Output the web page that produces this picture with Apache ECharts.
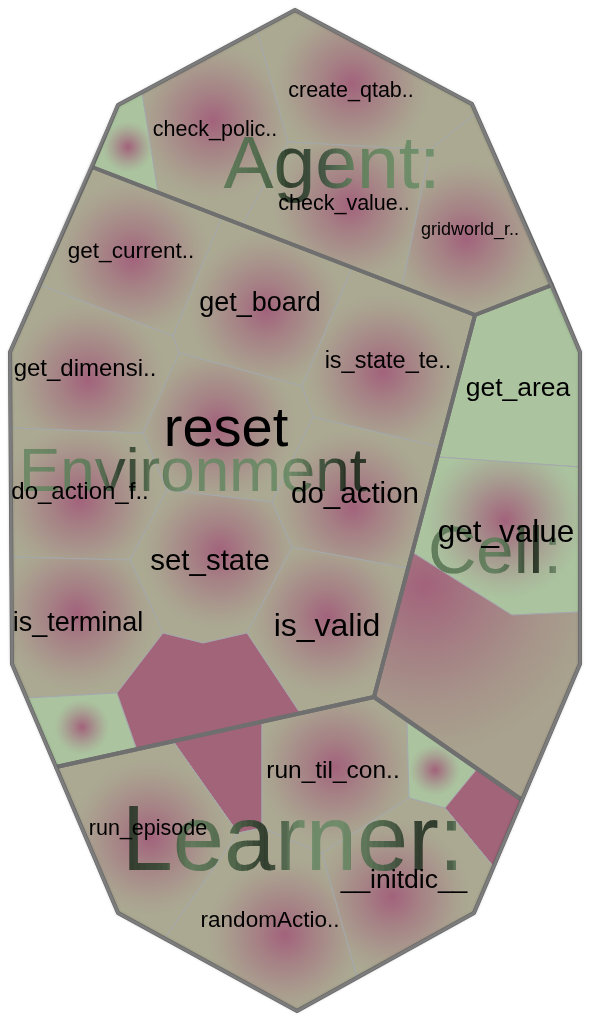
<!DOCTYPE html>
<html><head><meta charset="utf-8">
<script src="https://cdn.jsdelivr.net/npm/echarts@6/dist/echarts.min.js"></script>
<style>html,body{margin:0;padding:0;background:#fff}#c{width:592px;height:1020px}</style>
</head><body><div id="c"></div>
<script>
// ---------------- DATA ----------------
const groupNames = ['Agent:', 'Environment', 'Cell:', 'Learner:'];
const groupPolygons = [
  [[118,105],[295,10],[472,104],[552,285],[475,315],[92,167]],
  [[92,167],[475,315],[374,697],[56,767],[12,664],[10,352]],
  [[475,315],[552,285],[580,352],[580,664],[522,800],[374,697]],
  [[56,767],[374,697],[522,800],[474,913],[297,1011],[118,913]]
];
const outerPolygon = [[295,10],[472,104],[580,352],[580,664],[474,913],[297,1011],[118,913],[12,664],[10,352],[118,105]];
const cellLabels = [
  '', 'check_polic..', 'create_qtab..', 'check_value..', 'gridworld_r..',
  'get_current..', 'get_board', 'get_dimensi..', 'is_state_te..', 'reset', 'do_action_f..',
  'do_action', 'set_state', 'is_terminal', 'is_valid', '', '',
  'get_area', 'get_value', '',
  '', 'run_episode', 'randomActio..', 'run_til_con..', '', '', '__initdic__'
];
const cellGroups = [0,0,0,0,0, 1,1,1,1,1,1,1,1,1,1,1,1, 2,2,2, 3,3,3,3,3,3,3];
const cellPolygons = [
  [[118,105],[142,92],[158,192],[92,167]],
  [[142,92],[257,30],[288,142],[242,225],[158,192]],
  [[257,30],[295,10],[472,104],[476,113],[430,150],[288,142]],
  [[288,142],[430,150],[402,287],[242,225]],
  [[430,150],[476,113],[552,285],[475,315],[402,287]],
  [[92,167],[222,217],[173,336],[40,285]],
  [[222,217],[352,268],[302,386],[179,353],[173,336]],
  [[40,285],[173,336],[179,353],[143,433],[11,428],[10,352]],
  [[352,268],[475,315],[440,447],[313,417],[302,386]],
  [[179,353],[302,386],[313,417],[272,502],[167,490],[143,433]],
  [[11,428],[143,433],[167,490],[130,560],[11,557]],
  [[313,417],[440,447],[407,568],[292,547],[272,502]],
  [[167,490],[272,502],[292,547],[247,633],[203,643],[163,633],[130,560]],
  [[11,557],[130,560],[163,633],[117,693],[26,698],[12,664]],
  [[292,547],[407,568],[374,697],[300,713],[247,633]],
  [[26,698],[117,693],[137,750],[56,767]],
  [[163,633],[203,643],[247,633],[300,713],[137,750],[117,693]],
  [[475,315],[552,285],[580,352],[580,467],[438,457]],
  [[438,457],[580,467],[580,612],[512,615],[412,552]],
  [[412,552],[512,615],[580,612],[580,664],[522,800],[374,697]],
  [[173,741],[262,722],[262,828],[238,833]],
  [[56,767],[173,741],[238,833],[165,938],[118,913]],
  [[238,833],[262,828],[322,853],[357,977],[297,1011],[165,938]],
  [[262,722],[374,697],[407,720],[409,798],[322,853],[262,828]],
  [[407,720],[477,769],[445,808],[409,798]],
  [[477,769],[522,800],[493,866],[445,808]],
  [[409,798],[445,808],[493,866],[474,913],[357,977],[322,853]]
];

// ---------------- STYLES ----------------
const FONT = '"Liberation Sans", Arial, sans-serif';
const MAG = '#a2627b';
const SOLID = '#a26478';
const BASE = { olive: '#aba992', green: '#abc49f', brown: '#a8a28e' };
// per cell: kind, gradient centre, radius, label centre, font size
const cellStyles = [
  {kind:'green', g:[128,147], r:26},
  {kind:'olive', g:[213,121], r:78, l:[215,129], s:21.5},
  {kind:'olive', g:[352,84], r:78, l:[351,90], s:21.5},
  {kind:'olive', g:[350,205], r:78, l:[344,203], s:21.5},
  {kind:'olive', g:[466,238], r:78, l:[470,229], s:18},
  {kind:'olive', g:[133,258], r:78, l:[131,250], s:22.5},
  {kind:'olive', g:[266,310], r:78, l:[260,302], s:27},
  {kind:'olive', g:[88,380], r:78, l:[85,368], s:24},
  {kind:'olive', g:[383,372], r:78, l:[388,360], s:23.5},
  {kind:'olive', g:[218,425], r:78, l:[226,427], s:56},
  {kind:'olive', g:[80,500], r:78, l:[80,491], s:24},
  {kind:'olive', g:[353,507], r:78, l:[355,493], s:29.5},
  {kind:'olive', g:[220,552], r:78, l:[210,560], s:29.5},
  {kind:'olive', g:[77,613], r:78, l:[78,622], s:27},
  {kind:'olive', g:[327,617], r:78, l:[327,625], s:32},
  {kind:'green', g:[82,727], r:28},
  {kind:'solid'},
  {kind:'green', g:[518,385], r:0, l:[518,387], s:26.5},
  {kind:'green', g:[505,520], r:80, l:[506,531], s:31.5},
  {kind:'brown', g:[425,585], r:170},
  {kind:'solid'},
  {kind:'olive', g:[150,837], r:78, l:[148,828], s:21.5},
  {kind:'olive', g:[285,935], r:78, l:[270,919], s:22.5},
  {kind:'olive', g:[335,767], r:78, l:[333,770], s:24.5},
  {kind:'green', g:[435,770], r:26},
  {kind:'solid'},
  {kind:'olive', g:[392,897], r:78, l:[404,879], s:26.5}
];
const groupLabelStyles = [
  {c:[332,162], s:75, stops:[[0,'#5d7a58'],[0.22,'#4a6346'],[0.3,'#2b3a29'],[0.45,'#3f5240'],[0.6,'#5f7d5a'],[0.75,'#6a8a64'],[1,'#6f8f6a']]},
  {c:[193,470], s:62, stops:[[0,'#6d8a66'],[0.22,'#5e7a5a'],[0.3,'#2d3b2b'],[0.38,'#566f52'],[0.45,'#6b8866'],[0.78,'#6d8a66'],[0.88,'#3b4d38'],[0.96,'#1f2a1e'],[1,'#2a3628']]},
  {c:[495,550], s:67, stops:[[0,'#5f7a5a'],[0.5,'#627e5d'],[0.68,'#4a5f46'],[0.8,'#263123'],[0.9,'#5a7055'],[1,'#7a9475']]},
  {c:[293,838], s:92, stops:[[0,'#2a3628'],[0.12,'#3a4b37'],[0.2,'#5f7a59'],[0.33,'#4b6147'],[0.42,'#2b3729'],[0.52,'#6b8866'],[0.64,'#6e8b68'],[0.76,'#4d634a'],[0.86,'#2e3b2c'],[0.92,'#2a3628'],[1,'#6b8866']]}
];
const TEXT_DY = 0.07; // baseline correction, fraction of font size

// ---------------- helpers ----------------
function hex2rgb(h){ if(h.indexOf('rgb')===0){return h.match(/\d+/g).map(Number);} h=h.replace('#',''); return [parseInt(h.substr(0,2),16),parseInt(h.substr(2,2),16),parseInt(h.substr(4,2),16)]; }
function mix(a,b,t){ const A=hex2rgb(a),B=hex2rgb(b); return 'rgb('+A.map((v,i)=>Math.round(v+(B[i]-v)*t)).join(',')+')'; }
function colorAt(stops,t){
  for(let i=1;i<stops.length;i++){ if(t<=stops[i][0]){ const a=stops[i-1],b=stops[i]; return mix(a[1],b[1],(t-a[0])/(b[0]-a[0]||1)); } }
  return stops[stops.length-1][1];
}
const measureCtx = document.createElement('canvas').getContext('2d');
function textWidth(t,font){ measureCtx.font=font; return measureCtx.measureText(t).width; }

const chart = echarts.init(document.getElementById('c'), null, {renderer:'canvas'});

function cellItem(params, api){
  const i = params.dataIndex;
  const pts = cellPolygons[i].map(p => api.coord(p));
  const st = cellStyles[i];
  let fill;
  if (st.kind === 'solid') fill = SOLID;
  else if (!st.r) fill = BASE[st.kind];
  else {
    const c = api.coord(st.g);
    const r = Math.abs(api.coord([st.r,0])[0] - api.coord([0,0])[0]);
    const base = BASE[st.kind];
    const stops = [];
    for (let k=0;k<=10;k++){ const t=k/10; stops.push({offset:t, color:mix(MAG,base,1-Math.pow(1-t,1.25))}); }
    fill = {type:'radial', x:c[0], y:c[1], r:r, global:true, colorStops:stops};
  }
  return {type:'polygon', shape:{points:pts}, style:{fill:fill, stroke:'#a3a7ab', lineWidth:1}};
}
function groupItem(params, api){
  const pts = groupPolygons[params.dataIndex].map(p => api.coord(p));
  return {type:'polygon', shape:{points:pts}, style:{fill:'none', stroke:'#6f6f6f', lineWidth:4, lineJoin:'round'}};
}
function outerItem(params, api){
  const pts = outerPolygon.map(p => api.coord(p));
  return {type:'polygon', shape:{points:pts}, style:{fill:'none', stroke:'#7c7c7c', lineWidth:3, lineJoin:'round', shadowBlur:3, shadowColor:'rgba(0,0,0,0.25)'}};
}
function leafLabelItem(params, api){
  const i = params.dataIndex;
  const st = cellStyles[i];
  if (!cellLabels[i] || !st.l) return null;
  const p = api.coord(st.l);
  return {type:'text', style:{text:cellLabels[i], x:p[0], y:p[1]+TEXT_DY*st.s, fill:'#000',
    font:'normal '+st.s+'px '+FONT, align:'center', verticalAlign:'middle'}};
}
function groupLabelItem(params, api){
  const i = params.dataIndex;
  const st = groupLabelStyles[i];
  const p = api.coord(st.c);
  const y = p[1]+TEXT_DY*st.s;
  const font = 'normal '+st.s+'px '+FONT;
  const w = textWidth(groupNames[i], font);
  const x0 = p[0]-w/2, N = 60, sw = w/N;
  const children = [];
  for (let k=0;k<N;k++){
    children.push({type:'text', style:{text:groupNames[i], x:p[0], y:y, fill:colorAt(st.stops,(k+0.5)/N),
      font:font, align:'center', verticalAlign:'middle', opacity:0.95},
      clipPath:{type:'rect', shape:{x:x0+k*sw-(k===0?20:0), y:y-st.s, width:sw+0.6+(k===0||k===N-1?20:0), height:st.s*2}}});
  }
  return {type:'group', children:children};
}

chart.setOption({
  animation:false,
  grid:{left:0,right:0,top:0,bottom:0},
  xAxis:{type:'value',min:0,max:592,show:false},
  yAxis:{type:'value',min:0,max:1020,inverse:true,show:false},
  series:[
    {type:'custom', z:1, renderItem:cellItem, data:cellLabels.map((n,i)=>({name:n||('cell'+i), value:[i,i]})), clip:false},
    {type:'custom', z:2, renderItem:groupItem, data:groupNames.map((n,i)=>({name:n, value:[i,i]})), clip:false},
    {type:'custom', z:3, renderItem:outerItem, data:[{value:[0,0]}], clip:false},
    {type:'custom', z:4, renderItem:groupLabelItem, data:groupNames.map((n,i)=>({name:n, value:[i,i]})), clip:false},
    {type:'custom', z:5, renderItem:leafLabelItem, data:cellLabels.map((n,i)=>({name:n||('cell'+i), value:[i,i]})), clip:false}
  ]
});
</script></body></html>
